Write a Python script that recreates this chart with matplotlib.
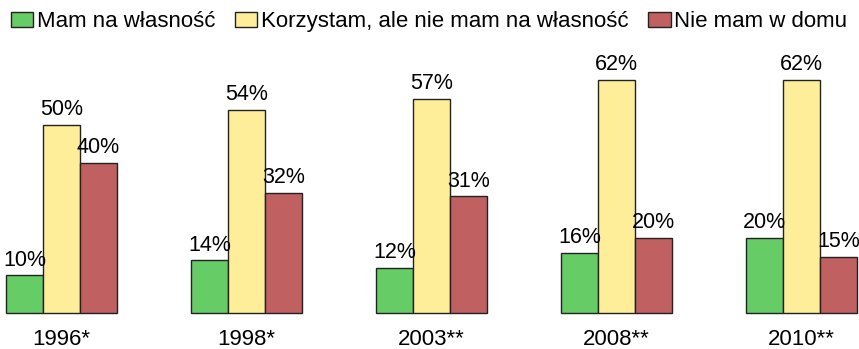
import matplotlib.pyplot as plt
import numpy as np
from matplotlib.patches import Patch

plt.rcParams['font.family'] = ['Liberation Sans', 'DejaVu Sans']

years = ["1996*", "1998*", "2003**", "2008**", "2010**"]
series = ["Mam na własność", "Korzystam, ale nie mam na własność", "Nie mam w domu"]
own = [10, 14, 12, 16, 20]
use = [50, 54, 57, 62, 62]
none_ = [40, 32, 31, 20, 15]
colors = ["#66CC66", "#FFEE99", "#C06060"]

fig = plt.figure(figsize=(8.59, 3.49), dpi=100)
ax = fig.add_axes([0, 0, 1, 1])

x = np.arange(len(years))
w = 0.2
for i, (vals, col) in enumerate(zip([own, use, none_], colors)):
    pos = x + (i - 1) * w
    ax.bar(pos, vals, w, color=col, edgecolor="#222222", linewidth=1.0)
    for p, v in zip(pos, vals):
        ax.text(p, v + 1.2, f"{v}%", ha="center", va="bottom", fontsize=15.5)

for xi, yr in zip(x, years):
    ax.text(xi, -7.0, yr, ha="center", va="center", fontsize=16)

ax.set_xlim(-0.332, 4.311)
ax.set_ylim(-9.57, 83.2)
ax.axis("off")

handles = [Patch(facecolor=c, edgecolor="#222222", linewidth=1.0) for c in colors]
fig.legend(handles, series, loc="upper left", bbox_to_anchor=(0.0, 1.0), ncol=3,
           frameon=False, fontsize=16, handlelength=1.0, handleheight=0.68,
           handletextpad=0.15, columnspacing=0.9, borderaxespad=0.4, borderpad=0.1)

fig.savefig("out.png", dpi=100)
